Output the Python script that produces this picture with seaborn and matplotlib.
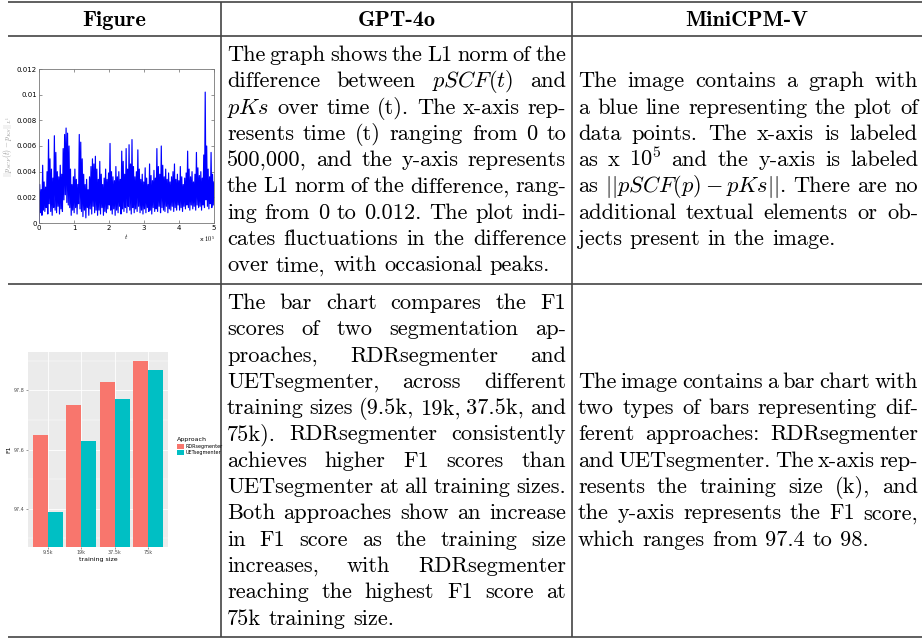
import re
import numpy as np
import pandas as pd
import matplotlib
matplotlib.use("Agg")
import matplotlib.pyplot as plt
import seaborn as sns

W, H, DPI = 924, 638, 100

# table text
header = ["Figure", "GPT-4o", "MiniCPM-V"]
gpt_row1 = [
    "The graph shows the L1 norm of the",
    "difference between $pSCF(t)$ and",
    "$pKs$ over time (t). The x-axis rep-",
    "resents time (t) ranging from 0 to",
    "500,000, and the y-axis represents",
    "the L1 norm of the difference, rang-",
    "ing from 0 to 0.012. The plot indi-",
    "cates fluctuations in the difference",
    "over time, with occasional peaks.",
]
mini_row1 = [
    "The image contains a graph with",
    "a blue line representing the plot of",
    "data points. The x-axis is labeled",
    "as x $10^5$ and the y-axis is labeled",
    "as $||pSCF(p) - pKs||$. There are no",
    "additional textual elements or ob-",
    "jects present in the image.",
]
gpt_row2 = [
    "The bar chart compares the F1",
    "scores of two segmentation ap-",
    "proaches, RDRsegmenter and",
    "UETsegmenter, across different",
    "training sizes (9.5k, 19k, 37.5k, and",
    "75k). RDRsegmenter consistently",
    "achieves higher F1 scores than",
    "UETsegmenter at all training sizes.",
    "Both approaches show an increase",
    "in F1 score as the training size",
    "increases, with RDRsegmenter",
    "reaching the highest F1 score at",
    "75k training size.",
]
mini_row2 = [
    "The image contains a bar chart with",
    "two types of bars representing dif-",
    "ferent approaches: RDRsegmenter",
    "and UETsegmenter. The x-axis rep-",
    "resents the training size (k), and",
    "the y-axis represents the F1 score,",
    "which ranges from 97.4 to 98.",
]

# line chart: L1 norm, in units of 1e-3
l1_norm = [
    0.0, 3.0, 0.8, 2.6, 0.6, 4.5, 1.0, 3.2, 0.9, 2.8, 1.2, 4.0, 0.7, 6.5, 1.5, 5.0, 0.9, 4.2, 0.6, 3.5,
    1.2, 6.8, 1.0, 5.5, 0.8, 4.0, 1.3, 3.6, 0.7, 4.5, 1.1, 3.8, 0.9, 5.8, 1.8, 6.9, 2.2, 7.4, 1.6, 7.0,
    1.4, 6.0, 1.2, 4.2, 0.6, 3.0, 1.0, 3.6, 0.8, 4.2, 1.2, 3.4, 0.7, 3.0, 1.5, 6.9, 1.1, 6.3, 0.9, 5.0,
    0.5, 3.8, 1.0, 3.0, 0.4, 3.4, 1.2, 2.6, 0.6, 3.6, 1.1, 4.4, 0.7, 5.0, 1.3, 4.6, 0.8, 5.2, 1.0, 4.2,
    0.6, 3.4, 1.0, 4.8, 0.7, 3.8, 1.2, 3.0, 0.6, 3.5, 0.9, 4.2, 0.8, 3.4, 1.1, 3.9, 1.4, 6.2, 1.0, 4.0,
    0.7, 3.6, 1.1, 3.3, 0.6, 4.4, 1.0, 3.6, 0.8, 4.0, 1.3, 3.4, 0.7, 5.6, 1.1, 4.8, 0.9, 3.8, 1.2, 5.8,
    0.8, 4.2, 1.3, 6.1, 1.0, 4.6, 0.7, 6.5, 1.2, 4.4, 0.8, 3.6, 1.1, 4.0, 0.9, 5.7, 1.3, 4.2, 0.8, 3.4,
    1.0, 3.8, 0.7, 3.2, 1.1, 4.3, 0.8, 3.5, 1.2, 3.0, 0.9, 4.6, 1.0, 3.7, 0.7, 3.3, 1.2, 4.1, 0.9, 3.5,
    1.1, 5.8, 0.9, 4.4, 1.3, 3.8, 0.8, 6.0, 1.2, 4.5, 1.0, 3.6, 0.9, 4.2, 1.3, 3.4, 0.8, 3.9, 1.1, 3.2,
    1.0, 3.6, 1.3, 4.0, 0.9, 4.6, 1.2, 3.4, 1.0, 3.8, 1.4, 3.3, 1.0, 4.4, 1.2, 3.6, 0.9, 3.0, 1.3, 3.5,
    1.1, 3.9, 1.4, 5.6, 1.2, 4.2, 1.0, 3.6, 1.4, 4.0, 1.1, 3.2, 1.3, 3.8, 1.0, 5.5, 1.4, 4.3, 1.2, 3.7,
    1.3, 4.0, 1.0, 3.5, 1.4, 5.3, 1.2, 10.2, 1.8, 6.0, 1.3, 4.2, 1.1, 3.6, 1.5, 5.5, 1.2, 3.8, 1.4, 3.2,
]
t_max = 5e5
t_ticks = [0, 1, 2, 3, 4, 5]
y_ticks = [0, 0.002, 0.004, 0.006, 0.008, 0.01, 0.012]
y_tick_labels = ["0", "0.002", "0.004", "0.006", "0.008", "0.01", "0.012"]

# bar chart
sizes = ["9.5k", "19k", "37.5k", "75k"]
rdr_f1 = [97.65, 97.75, 97.83, 97.90]
uet_f1 = [97.39, 97.63, 97.77, 97.87]

plt.rcParams["mathtext.fontset"] = "cm"

fig = plt.figure(figsize=(W / DPI, H / DPI), dpi=DPI)
base = fig.add_axes([0, 0, 1, 1])
base.set_xlim(0, W)
base.set_ylim(H, 0)
base.axis("off")
renderer = fig.canvas.get_renderer()


def px_axes(x0, y0, x1, y1):
    return fig.add_axes([x0 / W, 1 - y1 / H, (x1 - x0) / W, (y1 - y0) / H])


# rules
rule = dict(color="#444444", lw=1.2, solid_capstyle="butt")
for y in [1.5, 36, 284, 637]:
    base.plot([8, 922], [y, y], **rule)
for x in [221, 572]:
    base.plot([x, x], [1.5, 637], **rule)

# font size: the line "cates fluctuations in the difference" fills the column
probe = base.text(0, 0, "cates fluctuations in the difference", fontsize=10, family="cmr10")
SIZE = 10 * 336 / probe.get_window_extent(renderer).width
probe.remove()
STEP = 26.3

for txt, xc in zip(header, [114.5, 396.5, 747]):
    base.text(xc, 26, txt, fontsize=SIZE, family="cmb10", ha="center", va="baseline")


def draw_par(lines, x0, x1, y0):
    space = SIZE * DPI / 72 * 0.333
    for i, line in enumerate(lines):
        y = y0 + i * STEP
        words = re.findall(r"(?:\$[^$]*\$|[^\s$])+", line)
        arts = [base.text(0, y, w, fontsize=SIZE, family="cmr10", va="baseline") for w in words]
        widths = [a.get_window_extent(renderer).width for a in arts]
        if i == len(lines) - 1 or len(words) == 1:
            gap = space
        else:
            gap = (x1 - x0 - sum(widths)) / (len(words) - 1)
        x = x0
        for a, w in zip(arts, widths):
            a.set_x(x)
            x += w + gap


def mid_start(n_big, n_small, y0):
    return y0 + (n_big - n_small) / 2 * STEP


draw_par(gpt_row1, 227, 566, 61)
draw_par(mini_row1, 578, 918, mid_start(len(gpt_row1), len(mini_row1), 61))
draw_par(gpt_row2, 227, 566, 309)
draw_par(mini_row2, 578, 918, mid_start(len(gpt_row2), len(mini_row2), 309))

# ---- line chart
ax1 = px_axes(39, 69, 214, 223)
vals = np.array(l1_norm) * 1e-3
t = np.linspace(0, t_max, len(vals))
sns.lineplot(x=t, y=vals, ax=ax1, color="blue", lw=0.85)
ax1.set_xlim(0, t_max)
ax1.set_ylim(0, 0.012)
ax1.set_xticks(np.array(t_ticks) * 1e5)
ax1.set_xticklabels([str(v) for v in t_ticks])
ax1.set_yticks(y_ticks)
ax1.set_yticklabels(y_tick_labels)
ax1.tick_params(direction="in", length=2, width=0.4, labelsize=5, pad=1.5,
                top=True, right=True, color="#444444")
for s in ax1.spines.values():
    s.set_color("#777777")
    s.set_linewidth(0.6)
ax1.set_xlabel("$t$", fontsize=5, labelpad=1)
ax1.set_ylabel(r"$||p_{SCF}(t)-p_{KS}||_{L^1}$", fontsize=5.5, color="#999999", labelpad=2)
base.text(199, 242, r"x $10^5$", fontsize=4.5, family="DejaVu Sans", va="baseline")

# ---- bar chart
df = pd.DataFrame({
    "training size": sizes * 2,
    "F1": rdr_f1 + uet_f1,
    "Approach": ["RDRsegmenter"] * len(sizes) + ["UETsegmenter"] * len(sizes),
})
ax2 = px_axes(28, 352, 168, 547)
ax2.set_facecolor("#EBEBEB")
ax2.set_axisbelow(True)
sns.barplot(data=df, x="training size", y="F1", hue="Approach",
            palette=["#F8766D", "#00BFC4"], width=0.9, gap=0, saturation=1,
            edgecolor="none", ax=ax2)
ax2.set_ylim(97.27, 97.93)
ax2.set_xlim(-0.6, 3.6)
ax2.set_yticks([97.4, 97.6, 97.8])
ax2.set_yticks([97.3, 97.5, 97.7, 97.9], minor=True)
ax2.grid(which="major", color="white", lw=0.6)
ax2.grid(which="minor", axis="y", color="white", lw=0.3)
ax2.tick_params(which="major", labelsize=3.5, length=1.5, width=0.4, pad=1,
                color="#4D4D4D", labelcolor="#4D4D4D")
ax2.tick_params(which="minor", length=0)
for s in ax2.spines.values():
    s.set_visible(False)
ax2.set_xlabel("training size", fontsize=4.5, labelpad=1)
ax2.set_ylabel("F1", fontsize=4.5, labelpad=2)
handles, labels = ax2.get_legend_handles_labels()
ax2.get_legend().remove()
leg = fig.legend(handles, labels, title="Approach", loc="upper left",
                 bbox_to_anchor=(175 / W, 1 - 435 / H), frameon=False,
                 fontsize=3.5, title_fontsize=4.5, handlelength=1.3, handleheight=1.3,
                 handletextpad=0.4, labelspacing=0.25, borderpad=0)
leg._legend_box.align = "left"

fig.savefig("out.png", dpi=DPI)
